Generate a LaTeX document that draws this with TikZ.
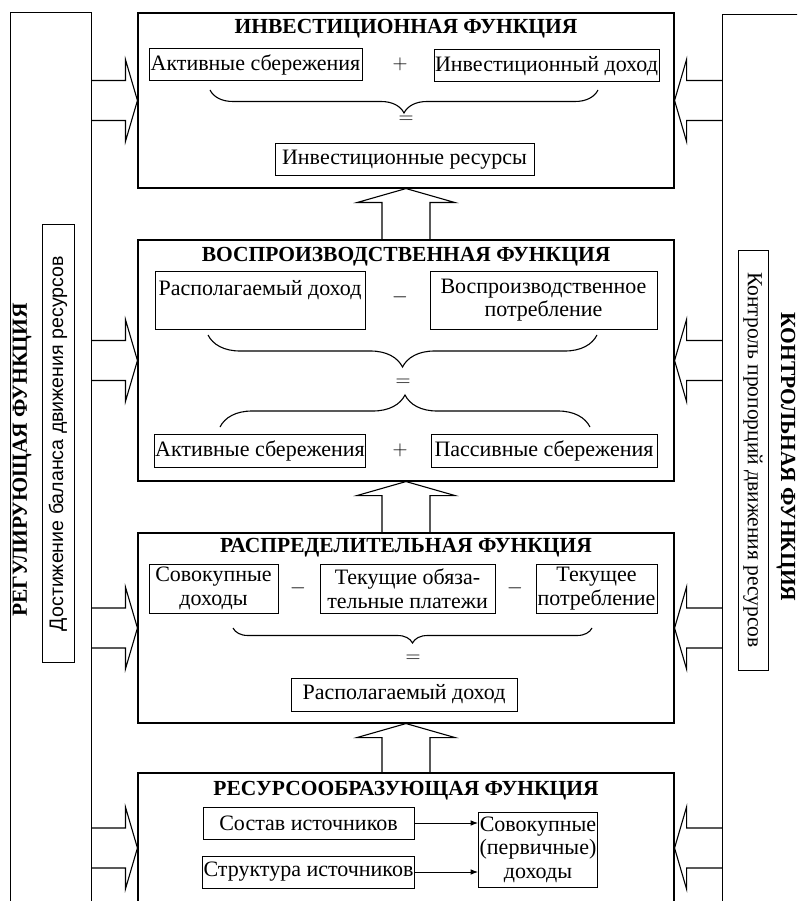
\documentclass[tikz,border=0pt]{standalone}
\usepackage{fontspec}
\setmainfont{Liberation Serif}
\setsansfont{Liberation Sans}
\usetikzlibrary{arrows.meta,positioning,calc,decorations.pathreplacing}

\begin{document}
\begin{tikzpicture}[
    x=1pt, y=-1pt,
    >=Latex,
    func/.style={draw, line width=1.1pt, minimum width=536pt, inner sep=0pt},
    ftitle/.style={font=\fontsize{21.5}{24}\selectfont\bfseries, inner sep=0pt},
    item/.style={draw, line width=1pt, align=center, inner sep=1pt, font=\fontsize{22}{23.5}\selectfont},
    sign/.style={font=\fontsize{21}{22}\selectfont, inner sep=0pt},
    column/.style={draw, line width=1.1pt, minimum height=1000pt, anchor=north west, inner sep=0pt},
    note/.style={draw, line width=1pt, inner sep=0pt, font=\fontsize{21.5}{22}\selectfont},
    hollow/.style={draw, line width=1.1pt, line join=miter},
    curly/.style={decorate, decoration={brace, amplitude=#1}, line width=1.1pt},
    line/.style={-Latex, line width=1pt}
]
\path[use as bounding box, clip] (0,0) rectangle (797,901);

% Side columns: regulating (left) and control (right) functions.
\node[column, minimum width=81pt] (regcol) at (10,12) {};
\node[column, minimum width=100pt] (ctrlcol) at (722,14) {};
\node[ftitle, rotate=90] (regtitle) at (22,460) {РЕГУЛИРУЮЩАЯ ФУНКЦИЯ};
\node[note, rotate=90, minimum width=437pt, minimum height=32pt, font=\sffamily\fontsize{19.6}{22}\selectfont] (regnote) at (58,443.5) {Достижение баланса движения ресурсов};
\node[ftitle, rotate=-90] (ctrltitle) at (786,457) {КОНТРОЛЬНАЯ ФУНКЦИЯ};
\node[note, rotate=-90, minimum width=420pt, minimum height=30pt] (ctrlnote) at (753,460) {Контроль пропорций движения ресурсов};

% The four function blocks, from top to bottom.
\node[func, minimum height=175pt] (invest) at (406,100.5) {};
\node[func, minimum height=241pt] (reprod) at (406,360.5) {};
\node[func, minimum height=190pt] (distrib) at (406,628) {};
\node[func, minimum height=150pt] (resource) at (406,848) {};

\node[ftitle, anchor=base] (investT) at ([yshift=-21pt]invest.north) {ИНВЕСТИЦИОННАЯ ФУНКЦИЯ};
\node[ftitle, anchor=base] (reprodT) at ([yshift=-22pt]reprod.north) {ВОСПРОИЗВОДСТВЕННАЯ ФУНКЦИЯ};
\node[ftitle, anchor=base] (distribT) at ([yshift=-20pt]distrib.north) {РАСПРЕДЕЛИТЕЛЬНАЯ ФУНКЦИЯ};
\node[ftitle, anchor=base] (resourceT) at ([yshift=-23pt]resource.north) {РЕСУРСООБРАЗУЮЩАЯ ФУНКЦИЯ};

% Investment block.
\node[item, minimum width=213pt, minimum height=32pt] (actsav1) at (255.5,65) {Активные сбережения};
\node[sign] (plus1) at (400,64) {$+$};
\node[item, minimum width=225pt, minimum height=32pt] (invinc) at (546.5,66) {Инвестиционный доход};
\draw[curly=23, decoration={mirror}] (210,90) -- (598,90);
\node[sign] (eq1) at (406,120) {$=$};
\node[item, minimum width=259pt, minimum height=32pt] (invres) at (404.5,160) {Инвестиционные ресурсы};

% Reproduction block.
\node[item, minimum width=210pt, minimum height=58pt] (dispinc1) at (260,300) {Располагаемый доход\\\mbox{}};
\node[sign] (minus1) at (400,297) {$-$};
\node[item, minimum width=227pt, minimum height=58pt] (repcons) at (543.5,300) {Воспроизводственное\\потребление};
\draw[curly=32, decoration={mirror}] (208,335) -- (597,335);
\node[sign] (eq2) at (403,383) {$=$};
\draw[curly=32] (220,427) -- (590,427);
\node[item, minimum width=208pt, minimum height=33pt] (actsav2) at (260,450.5) {Активные сбережения};
\node[sign] (plus2) at (400,450) {$+$};
\node[item, minimum width=226pt, minimum height=33pt] (passav) at (544,450.5) {Пассивные сбережения};

% Distribution block.
\node[item, minimum width=129pt, minimum height=49pt] (totinc1) at (213.5,588.5) {Совокупные\\доходы};
\node[sign] (minus2) at (298,588) {$-$};
\node[item, minimum width=175pt, minimum height=49pt] (payments) at (407.5,588.5) {Текущие обяза-\\тельные платежи};
\node[sign] (minus3) at (515,588) {$-$};
\node[item, minimum width=121pt, minimum height=49pt] (curcons) at (596.5,588.5) {Текущее\\потребление};
\draw[curly=15, decoration={mirror}] (233,628) -- (592,628);
\node[sign] (eq3) at (413,659) {$=$};
\node[item, minimum width=226pt, minimum height=33pt] (dispinc2) at (404,694.5) {Располагаемый доход};

% Resource-forming block.
\node[item, minimum width=211pt, minimum height=32pt] (srccomp) at (308.5,823) {Состав источников};
\node[item, minimum width=211pt, minimum height=32pt] (srcstruct) at (308.5,872) {Структура источников};
\node[item, minimum width=118pt, minimum height=75pt] (totinc2) at (538,849.5) {Совокупные\\(первичные)\\доходы};
\draw[line] (srccomp.east) -- (srccomp.east -| totinc2.west);
\draw[line] (srcstruct.east) -- (srcstruct.east -| totinc2.west);

% Hollow arrows between the blocks.
\foreach \lo/\hi in {reprod/invest, distrib/reprod, resource/distrib}{
  \draw[hollow] ([xshift=-24pt]\lo.north) -- ([xshift=-24pt,yshift=-14pt]\hi.south)
    -- ([xshift=-49pt,yshift=-14pt]\hi.south) -- (\hi.south)
    -- ([xshift=49pt,yshift=-14pt]\hi.south) -- ([xshift=24pt,yshift=-14pt]\hi.south)
    -- ([xshift=24pt]\lo.north);
}

% Hollow arrows from the side columns into every block.
\foreach \f in {invest, reprod, distrib, resource}{
  \draw[hollow] ($(regcol.east |- \f.west)+(0,-20)$) -- ($(\f.west)+(-12,-20)$)
    -- ($(\f.west)+(-12,-41)$) -- (\f.west) -- ($(\f.west)+(-12,41)$)
    -- ($(\f.west)+(-12,20)$) -- ($(regcol.east |- \f.west)+(0,20)$);
  \draw[hollow] ($(ctrlcol.west |- \f.east)+(0,-20)$) -- ($(\f.east)+(12,-20)$)
    -- ($(\f.east)+(12,-41)$) -- (\f.east) -- ($(\f.east)+(12,41)$)
    -- ($(\f.east)+(12,20)$) -- ($(ctrlcol.west |- \f.east)+(0,20)$);
}

\end{tikzpicture}
\end{document}
